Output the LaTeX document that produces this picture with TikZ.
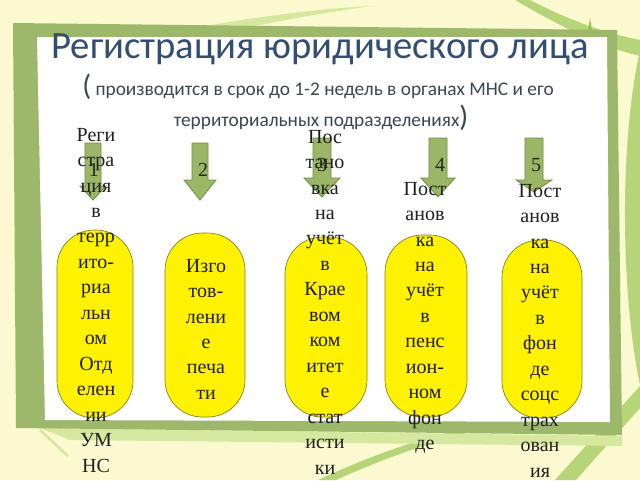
\documentclass[tikz,border=0pt]{standalone}
\usepackage{fontspec}
\setmainfont{Liberation Serif}
\newfontfamily\titlefont{Carlito}
\usepackage{color}

\definecolor{bgyellow}{RGB}{250,249,208}
\definecolor{paleleaf}{RGB}{214,232,160}
\definecolor{leaf}{RGB}{182,212,120}
\definecolor{brightleaf}{RGB}{140,198,63}
\definecolor{framegreen}{RGB}{157,184,106}
\definecolor{arrowgreen}{RGB}{156,182,104}
\definecolor{arrowline}{RGB}{112,140,66}
\definecolor{capsuleline}{RGB}{128,128,30}
\definecolor{titleblue}{RGB}{50,78,112}
\definecolor{subgray}{RGB}{58,70,84}

\begin{document}
\begin{tikzpicture}[x=0.75pt,y=-0.75pt,
  blockarrow/.style={fill=arrowgreen,draw=arrowline,line width=0.6pt},
  capsule/.style={fill=yellow,draw=capsuleline,line width=0.5pt,rounded corners=28pt},
  stepnum/.style={font=\fontsize{15}{19}\selectfont,text=black!85,inner sep=0pt},
  colword/.style={font=\fontsize{15}{19.1}\selectfont,text=black!88,align=center,inner sep=0pt,anchor=north}]
\useasboundingbox (0,0) rectangle (640,480);
\fill[bgyellow] (0,0) rectangle (640,480);
% leaves behind the frame
\fill[paleleaf] (120,42) .. controls (200,26) and (290,10) .. (372,6) .. controls (300,16) and (220,32) .. (165,46) -- cycle;
\fill[leaf] (530,0) .. controls (565,18) and (600,32) .. (640,40) -- (640,56) .. controls (598,46) and (560,26) .. (515,0) -- cycle;
\fill[leaf] (640,50) .. controls (618,150) and (622,300) .. (640,385) -- cycle;
\fill[leaf] (555,480) -- (576,480) -- (640,408) -- (640,386) -- cycle;
\fill[leaf] (336,480) .. controls (380,460) and (430,442) .. (478,430) -- (458,430) .. controls (415,440) and (365,458) .. (318,480) -- cycle;
\fill[paleleaf] (40,428) -- (622,436) -- (622,446) -- (70,440) -- cycle;
\draw[paleleaf,line width=2pt] (40,430) -- (68,456);
\fill[brightleaf] (590,18) -- (593,38) -- (612,42) -- (593,46) -- (590,70) -- (587,46) -- (570,42) -- (587,38) -- cycle;
% frame
\fill[framegreen] (13,23) -- (617,30) -- (622,435) -- (16,428) -- cycle;
\fill[white] (37,37) -- (607,37) -- (610,422) -- (45,420) -- cycle;
% title
\node[font=\titlefont\fontsize{29}{29}\selectfont,text=titleblue,anchor=base] (title) at (320,58) {Регистрация юридического лица};
\node[font=\titlefont\fontsize{14.5}{14.5}\selectfont,text=subgray,anchor=base] (sub1) at (318,95) {{\fontsize{22}{22}\selectfont(} производится в срок до 1-2 недель в органах МНС и его};
\node[font=\titlefont\fontsize{14.5}{14.5}\selectfont,text=subgray,anchor=base] (sub2) at (321,126) {территориальных подразделениях{\fontsize{22}{22}\selectfont)}};
% arrows
\filldraw[blockarrow] (85,143) -- (101,143) -- (101,186) -- (106,186) -- (93,200) -- (80,186) -- (85,186) -- cycle;
\filldraw[blockarrow] (192,143) -- (208,143) -- (208,180) -- (216,180) -- (200,200) -- (184,180) -- (192,180) -- cycle;
\filldraw[blockarrow] (313,138) -- (331,138) -- (331,178) -- (340,178) -- (322,197) -- (304,178) -- (313,178) -- cycle;
\filldraw[blockarrow] (429,138) -- (447,138) -- (447,178) -- (455,178) -- (438,197) -- (421,178) -- (429,178) -- cycle;
\filldraw[blockarrow] (525,138) -- (543,138) -- (543,180) -- (552,180) -- (534,192) -- (516,180) -- (525,180) -- cycle;
% capsules
\filldraw[capsule] (57,230) rectangle (133,418);
\filldraw[capsule] (165,233) rectangle (245,417);
\filldraw[capsule] (285,237) rectangle (367,417);
\filldraw[capsule] (385,235) rectangle (467,417);
\filldraw[capsule] (502,240) rectangle (582,418);
% step numbers
\node[stepnum] (n1) at (94,170) {1};
\node[stepnum] (n2) at (203,170) {2};
\node[stepnum] (n3) at (322,165) {3};
\node[stepnum] (n4) at (440,165) {4};
\node[stepnum] (n5) at (536,165) {5};
% column texts
\node[colword] (t1) at (96,123) {\strut Реги\\стра\\ция\\в\\терр\\ито-\\риа\\льн\\ом\\Отд\\елен\\ии\\УМ\\НС};
\node[colword] (t2) at (206,254) {\strut Изго\\тов-\\лени\\е\\печа\\ти};
\node[colword] (t3) at (325,125) {\strut Пос\\тано\\вка\\на\\учёт\\в\\Крае\\вом\\ком\\итет\\е\\стат\\исти\\ки};
\node[colword] (t4) at (425,177) {\strut Пост\\анов\\ка\\на\\учёт\\в\\пенс\\ион-\\ном\\фон\\де};
\node[colword] (t5) at (540,179) {\strut Пост\\анов\\ка\\на\\учёт\\в\\фон\\де\\соцс\\трах\\ован\\ия};
\end{tikzpicture}
\end{document}
